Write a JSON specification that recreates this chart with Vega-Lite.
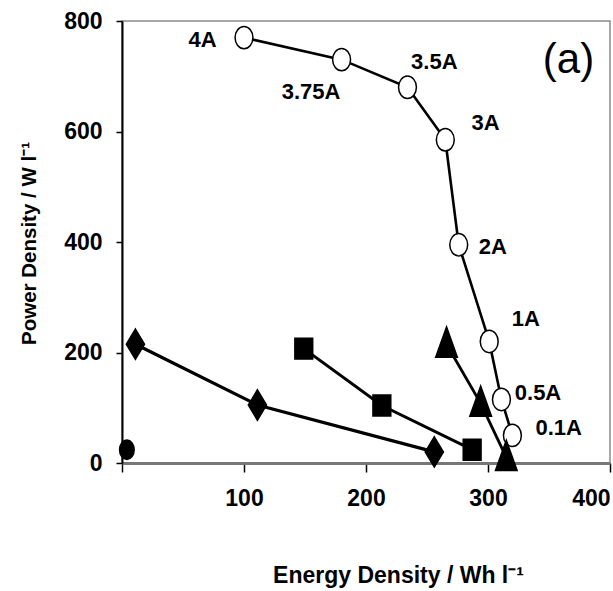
{
  "$schema": "https://vega.github.io/schema/vega-lite/v6.json",
  "width": 488,
  "height": 442,
  "autosize": {"type": "none"},
  "padding": {"left": 122, "top": 21, "right": 3, "bottom": 128},
  "background": "white",
  "config": {
    "view": {"stroke": "#8a8a8a", "strokeWidth": 1.5},
    "font": "Liberation Sans"
  },
  "datasets": {
    "pts": [
      {"series": "open", "energy": 100, "power": 770},
      {"series": "open", "energy": 180, "power": 730},
      {"series": "open", "energy": 234, "power": 680},
      {"series": "open", "energy": 265, "power": 585},
      {"series": "open", "energy": 276, "power": 395},
      {"series": "open", "energy": 301, "power": 220},
      {"series": "open", "energy": 311, "power": 115},
      {"series": "open", "energy": 320, "power": 50},
      {"series": "triangle", "energy": 266, "power": 215},
      {"series": "triangle", "energy": 294, "power": 108},
      {"series": "triangle", "energy": 315, "power": 10},
      {"series": "square", "energy": 149, "power": 207},
      {"series": "square", "energy": 213, "power": 104},
      {"series": "square", "energy": 287, "power": 24},
      {"series": "diamond", "energy": 11, "power": 215},
      {"series": "diamond", "energy": 111, "power": 105},
      {"series": "diamond", "energy": 256, "power": 20},
      {"series": "dot", "energy": 4, "power": 24}
    ],
    "labels": [
      {"label": "4A", "energy": 66, "power": 766},
      {"label": "3.75A", "energy": 155, "power": 672},
      {"label": "3.5A", "energy": 256, "power": 725},
      {"label": "3A", "energy": 298, "power": 616},
      {"label": "2A", "energy": 304, "power": 391},
      {"label": "1A", "energy": 331, "power": 260},
      {"label": "0.5A", "energy": 341, "power": 126},
      {"label": "0.1A", "energy": 358, "power": 63}
    ],
    "panel": [
      {"label": "(a)", "energy": 366, "power": 729}
    ]
  },
  "encoding": {
    "x": {
      "field": "energy",
      "type": "quantitative",
      "scale": {"domain": [0, 400], "nice": false, "zero": false},
      "axis": {
        "title": "Energy Density / Wh l⁻¹",
        "values": [0, 100, 200, 300, 400],
        "labelExpr": "datum.value == 0 ? '' : datum.label",
        "labelFlush": true,
        "labelOverlap": false,
        "labelFont": "Liberation Sans",
        "labelFontSize": 23,
        "labelFontWeight": "bold",
        "labelColor": "black",
        "labelPadding": 15,
        "tickSize": 9,
        "tickColor": "black",
        "tickWidth": 1.5,
        "domainColor": "#777777",
        "domainWidth": 3,
        "grid": false,
        "titleFont": "Liberation Sans",
        "titleFontSize": 23,
        "titleFontWeight": "bold",
        "titleColor": "black",
        "titleX": 276,
        "titleY": 112,
        "titleBaseline": "middle",
        "titleAlign": "center"
      }
    },
    "y": {
      "field": "power",
      "type": "quantitative",
      "scale": {"domain": [0, 800], "nice": false},
      "axis": {
        "title": "Power Density / W l⁻¹",
        "values": [0, 200, 400, 600, 800],
        "labelOverlap": false,
        "labelFont": "Liberation Sans",
        "labelFontSize": 23,
        "labelFontWeight": "bold",
        "labelColor": "black",
        "labelPadding": 14,
        "tickSize": 6,
        "tickColor": "black",
        "tickWidth": 1.5,
        "domainColor": "black",
        "domainWidth": 2,
        "grid": false,
        "titleFont": "Liberation Sans",
        "titleFontSize": 20.5,
        "titleFontWeight": "bold",
        "titleColor": "black",
        "titleX": -93,
        "titleY": 222,
        "titleBaseline": "middle",
        "titleAlign": "center"
      }
    }
  },
  "layer": [
    {
      "data": {"name": "pts"},
      "mark": {"type": "line", "color": "black"},
      "encoding": {
        "detail": {"field": "series"},
        "strokeWidth": {
          "field": "series",
          "type": "nominal",
          "scale": {"domain": ["open", "triangle", "square", "diamond", "dot"], "range": [2.6, 3.5, 3.5, 3.8, 3]},
          "legend": null
        }
      }
    },
    {
      "data": {"name": "pts"},
      "mark": {"type": "point", "filled": true, "stroke": "black", "strokeWidth": 1.5, "opacity": 1},
      "encoding": {
        "shape": {
          "field": "series",
          "type": "nominal",
          "scale": {
            "domain": ["open", "triangle", "square", "diamond", "dot"],
            "range": [
              "M-0.8,0A0.8,1 0 1,0 0.8,0A0.8,1 0 1,0 -0.8,0Z",
              "M0,-1.6L1,1.2L-1,1.2Z",
              "M-0.85,-1L0.85,-1L0.85,1L-0.85,1Z",
              "M0,-1.5L0.9,0L0,1.5L-0.9,0Z",
              "M-0.75,0A0.75,1 0 1,0 0.75,0A0.75,1 0 1,0 -0.75,0Z"
            ]
          },
          "legend": null
        },
        "fill": {
          "field": "series",
          "type": "nominal",
          "scale": {"domain": ["open", "triangle", "square", "diamond", "dot"], "range": ["white", "black", "black", "black", "black"]},
          "legend": null
        },
        "size": {
          "field": "series",
          "type": "nominal",
          "scale": {"domain": ["open", "triangle", "square", "diamond", "dot"], "range": [500, 380, 441, 340, 580]},
          "legend": null
        }
      }
    },
    {
      "data": {"name": "labels"},
      "mark": {"type": "text", "font": "Liberation Sans", "fontWeight": "bold", "fontSize": 22, "color": "black", "align": "center", "baseline": "middle"},
      "encoding": {"text": {"field": "label"}}
    },
    {
      "data": {"name": "panel"},
      "mark": {"type": "text", "font": "Liberation Sans", "fontWeight": "normal", "fontSize": 42, "color": "black", "align": "center", "baseline": "middle"},
      "encoding": {"text": {"field": "label"}}
    }
  ]
}
